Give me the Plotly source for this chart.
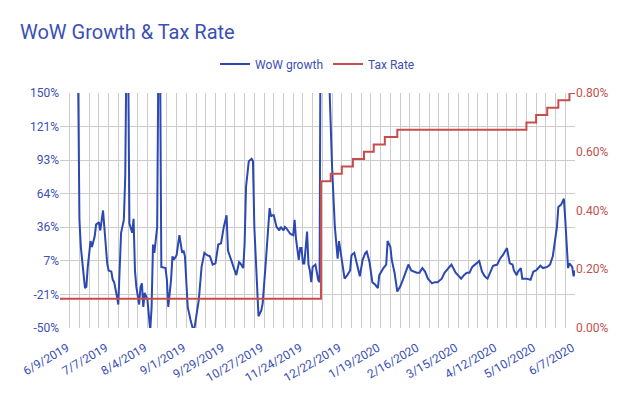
import plotly.graph_objects as go

# ---- Data ----
wow_dates = [
    "2019-06-21", "2019-06-23", "2019-06-24", "2019-06-26", "2019-06-27", "2019-06-28", "2019-06-29",
    "2019-07-01", "2019-07-02", "2019-07-04", "2019-07-05", "2019-07-07", "2019-07-08", "2019-07-10",
    "2019-07-11", "2019-07-13", "2019-07-14", "2019-07-16", "2019-07-17", "2019-07-18", "2019-07-20",
    "2019-07-21", "2019-07-23", "2019-07-25", "2019-07-26", "2019-07-27", "2019-07-28", "2019-07-29",
    "2019-07-31", "2019-08-01", "2019-08-02", "2019-08-03", "2019-08-05", "2019-08-06", "2019-08-07",
    "2019-08-08", "2019-08-09", "2019-08-11", "2019-08-13", "2019-08-14", "2019-08-15", "2019-08-16",
    "2019-08-18", "2019-08-19", "2019-08-20", "2019-08-21", "2019-08-24", "2019-08-25", "2019-08-26",
    "2019-08-28", "2019-08-29", "2019-08-30", "2019-09-01", "2019-09-02", "2019-09-03", "2019-09-05",
    "2019-09-06", "2019-09-07", "2019-09-08", "2019-09-09", "2019-09-11", "2019-09-13", "2019-09-14",
    "2019-09-17", "2019-09-19", "2019-09-21", "2019-09-23", "2019-09-25", "2019-09-27", "2019-09-29",
    "2019-10-01", "2019-10-03", "2019-10-05", "2019-10-07", "2019-10-08", "2019-10-11", "2019-10-14",
    "2019-10-16", "2019-10-17", "2019-10-19", "2019-10-20", "2019-10-21", "2019-10-23", "2019-10-25",
    "2019-10-26", "2019-10-27", "2019-10-29", "2019-10-30", "2019-11-01", "2019-11-02", "2019-11-04",
    "2019-11-06", "2019-11-07", "2019-11-08", "2019-11-09", "2019-11-10", "2019-11-12", "2019-11-14",
    "2019-11-15", "2019-11-17", "2019-11-18", "2019-11-19", "2019-11-21", "2019-11-22", "2019-11-24",
    "2019-11-25", "2019-11-26", "2019-11-28", "2019-11-29", "2019-11-30", "2019-12-01", "2019-12-02",
    "2019-12-04", "2019-12-05", "2019-12-06", "2019-12-07", "2019-12-08", "2019-12-10", "2019-12-12",
    "2019-12-13", "2019-12-14", "2019-12-17", "2019-12-20", "2019-12-22", "2019-12-24", "2019-12-26",
    "2019-12-27", "2019-12-28", "2019-12-30", "2019-12-31", "2020-01-02", "2020-01-04", "2020-01-05",
    "2020-01-07", "2020-01-09", "2020-01-11", "2020-01-13", "2020-01-15", "2020-01-16", "2020-01-18",
    "2020-01-20", "2020-01-22", "2020-01-24", "2020-01-25", "2020-01-28", "2020-01-30", "2020-01-31",
    "2020-02-02", "2020-02-03", "2020-02-05", "2020-02-07", "2020-02-09", "2020-02-11", "2020-02-13",
    "2020-02-15", "2020-02-17", "2020-02-19", "2020-02-21", "2020-02-23", "2020-02-25", "2020-02-27",
    "2020-02-29", "2020-03-03", "2020-03-05", "2020-03-07", "2020-03-10", "2020-03-12", "2020-03-15",
    "2020-03-17", "2020-03-20", "2020-03-22", "2020-03-24", "2020-03-26", "2020-03-28", "2020-03-30",
    "2020-04-01", "2020-04-04", "2020-04-06", "2020-04-08", "2020-04-10", "2020-04-12", "2020-04-14",
    "2020-04-16", "2020-04-19", "2020-04-21", "2020-04-23", "2020-04-26", "2020-04-28", "2020-04-30",
    "2020-05-01", "2020-05-03", "2020-05-04", "2020-05-06", "2020-05-07", "2020-05-10", "2020-05-13",
    "2020-05-15", "2020-05-17", "2020-05-20", "2020-05-22", "2020-05-25", "2020-05-27", "2020-05-29",
    "2020-06-01", "2020-06-02", "2020-06-04", "2020-06-05", "2020-06-06", "2020-06-07", "2020-06-08",
    "2020-06-09", "2020-06-10", "2020-06-12", "2020-06-13", "2020-06-14",
]
wow_growth = [
    300, 42, 19, -9, -16, -15, 2,
    24, 19, 28, 38, 40, 33, 50,
    36, 5, -1, -2, -9, -11, -23,
    -30, 31, 42, 79, 200, 200, 39,
    31, 43, -1, -15, -30, -15, -12,
    -32, -20, -26, -52, -32, 21, 14,
    36, 200, 200, 2, 1, -9, -32,
    -9, 11, 8, 12, 19, 29, 14,
    16, 11, -15, -32, -43, -52, -49,
    -26, 2, 14, 12, 11, 4, 5,
    21, 22, 36, 46, 16, 6, -5,
    6, 5, 1, 22, 70, 92, 94,
    92, 36, -15, -40, -35, -29, 2,
    36, 52, 45, 46, 46, 36, 33,
    36, 33, 36, 35, 31, 30, 29,
    42, 26, 8, 18, 18, 5, 5,
    32, 4, -1, -11, 2, 4, -9,
    -11, 300, 400, 160, 87, 36, 9,
    24, 16, -1, -8, -5, -1, 12,
    14, 4, -6, 8, 14, 15, 6,
    -11, -13, -16, -5, 1, 4, 24,
    19, 8, -3, -19, -15, -9, -3,
    4, -1, -2, -3, -3, 1, -2,
    -8, -12, -11, -11, -8, -3, 1,
    4, -3, -6, -8, -5, -3, -3,
    2, 5, 7, -2, -6, -8, -3,
    3, 4, 9, 12, 18, 5, 4,
    -1, -5, -2, 1, -8, -8, -9,
    -2, -1, 3, 1, 2, 4, 11,
    36, 53, 55, 58, 60, 42, 14,
    1, 5, 2, -6, -1,
]

tax_dates = [
    "2019-06-09", "2019-12-14", "2019-12-21", "2019-12-29", "2020-01-06", "2020-01-14",
    "2020-01-21", "2020-01-29", "2020-02-07", "2020-05-10", "2020-05-17", "2020-05-25",
    "2020-06-02", "2020-06-10", "2020-06-14",
]
tax_rate = [
    0.10, 0.50, 0.525, 0.55, 0.575, 0.60,
    0.625, 0.65, 0.675, 0.70, 0.725, 0.75,
    0.775, 0.80, 0.80,
]

x_tick_dates = [
    "2019-06-09", "2019-07-07", "2019-08-04", "2019-09-01", "2019-09-29", "2019-10-27",
    "2019-11-24", "2019-12-22", "2020-01-19", "2020-02-16", "2020-03-15", "2020-04-12",
    "2020-05-10", "2020-06-07",
]
x_tick_labels = [
    "6/9/2019", "7/7/2019", "8/4/2019", "9/1/2019", "9/29/2019", "10/27/2019",
    "11/24/2019", "12/22/2019", "1/19/2020", "2/16/2020", "3/15/2020", "4/12/2020",
    "5/10/2020", "6/7/2020",
]
left_tick_vals = [-50, -21.43, 7.14, 35.71, 64.29, 92.86, 121.43, 150]
left_tick_labels = ["-50%", "-21%", "7%", "36%", "64%", "93%", "121%", "150%"]
right_tick_vals = [0, 0.2, 0.4, 0.6, 0.8]
right_tick_labels = ["0.00%", "0.20%", "0.40%", "0.60%", "0.80%"]

BLUE = "#2B48B3"
RED = "#C94C4C"
BLUE_TXT = "#3B4FB5"
RED_TXT = "#C0504D"
GRID = "#CCCCCC"
FONT = "Roboto"

fig = go.Figure()
fig.add_trace(go.Scatter(
    x=wow_dates, y=wow_growth, name="WoW growth", mode="lines",
    line=dict(color=BLUE, width=2), yaxis="y",
))
fig.add_trace(go.Scatter(
    x=tax_dates, y=tax_rate, name="Tax Rate", mode="lines",
    line=dict(color=RED, width=2, shape="hv"), yaxis="y2",
))

# page body has an 8px default margin, so the figure is drawn from (8, 8)
OFF = 8
W, H = 634 - OFF, 394 - OFF
L, R, T, B = 60 - OFF, 634 - 575, 93 - OFF, 394 - 328
PH = H - T - B

fig.update_layout(
    width=W, height=H,
    margin=dict(l=L, r=R, t=T, b=B, autoexpand=False),
    paper_bgcolor="white", plot_bgcolor="white",
    font=dict(family=FONT, size=12, color=BLUE_TXT),
    title=dict(
        text="WoW Growth & Tax Rate", x=(20 - OFF) / W, xref="container", xanchor="left",
        y=1 - (32 - OFF) / H, yref="container", yanchor="middle",
        font=dict(family=FONT, size=20, color=BLUE_TXT),
    ),
    showlegend=True,
    legend=dict(
        orientation="h", x=0.5, xanchor="center", y=1 + (93 - 64) / PH,
        yanchor="middle", font=dict(family=FONT, size=12, color=BLUE_TXT),
        bgcolor="rgba(0,0,0,0)",
    ),
    xaxis=dict(
        type="date", range=["2019-06-09", "2020-06-14"],
        tickvals=x_tick_dates, ticktext=x_tick_labels, tickangle=-30,
        ticklabelshift=7, ticklabelstandoff=10,
        tickfont=dict(family=FONT, size=12, color=BLUE_TXT),
        showgrid=True, gridcolor=GRID, gridwidth=1,
        minor=dict(dtick=7 * 86400000, tick0="2019-06-09", showgrid=True,
                   gridcolor=GRID, gridwidth=1),
        showline=False, zeroline=False, ticks="",
    ),
    yaxis=dict(
        range=[-50, 150], tickvals=left_tick_vals, ticktext=left_tick_labels,
        tickfont=dict(family=FONT, size=12, color=BLUE_TXT),
        showgrid=True, gridcolor=GRID, gridwidth=1, zeroline=False,
        showline=False, ticks="",
    ),
    yaxis2=dict(
        range=[0, 0.8], tickvals=right_tick_vals, ticktext=right_tick_labels,
        overlaying="y", side="right",
        tickfont=dict(family=FONT, size=12, color=RED_TXT),
        showgrid=False, zeroline=False, showline=False, ticks="",
    ),
)

fig.write_html("out.html")
